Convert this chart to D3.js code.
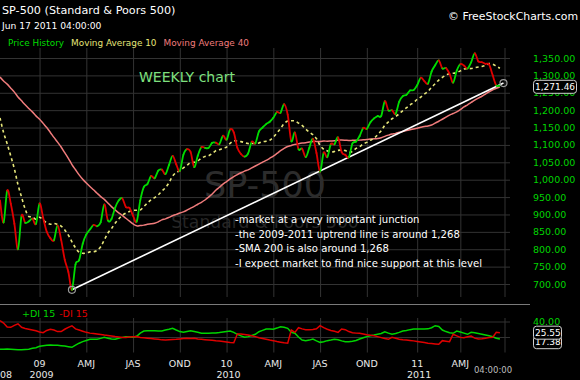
<!DOCTYPE html>
<html>
<head>
<meta charset="utf-8">
<script src="https://cdn.jsdelivr.net/npm/d3@7"></script>
<style>
  body { margin: 0; background: #000; }
  svg { display: block; font-family: "DejaVu Sans", sans-serif; }
</style>
</head>
<body>
<div id="chart"></div>
<script>

// Set dimensions for the chart
const width = 580;
const height = 380;
const plot = {left: 0, right: 505, top: 48, bottom: 297};
const lower = {top: 318, bottom: 352.5};

// weekly closes, one per Friday, starting Oct 17 2008
const firstWeek = new Date(2008, 9, 17);
const closes = [
  940.55, 876.77, 968.75, 930.99, 873.29, 800.03, 896.24, 876.07, 879.73, 887.88,
  872.80, 931.80, 890.35, 850.12, 831.95, 825.88, 868.60, 826.84, 770.05, 735.09,
  683.38, 756.55, 768.54, 815.94, 842.50, 856.56, 869.60, 866.23, 877.52, 929.23,
  882.88, 887.00, 919.14, 940.09, 946.21, 921.23, 918.90, 896.42, 879.13, 940.38,
  979.26, 987.48, 1010.48, 1004.09, 1026.13, 1028.93, 1016.40, 1042.73, 1068.30, 1044.38,
  1025.21, 1071.49, 1087.68, 1079.60, 1036.19, 1069.30, 1093.48, 1091.38, 1091.49, 1105.98,
  1106.41, 1102.47, 1126.48, 1115.10, 1144.98, 1136.03, 1091.76, 1073.87, 1066.19, 1075.51,
  1109.17, 1104.49, 1138.70, 1149.99, 1159.90, 1166.59, 1178.10, 1194.37, 1192.13, 1217.28,
  1186.69, 1110.88, 1135.68, 1087.69, 1089.41, 1064.88, 1091.60, 1117.51, 1076.76, 1022.58,
  1077.96, 1064.88, 1102.66, 1101.60, 1121.64, 1079.25, 1071.69, 1064.59, 1104.51, 1109.55,
  1125.59, 1148.67, 1146.24, 1165.15, 1176.19, 1183.08, 1183.26, 1225.85, 1199.21, 1199.73,
  1189.40, 1224.71, 1240.40, 1243.91, 1256.77, 1257.64, 1271.50, 1293.24, 1283.35, 1276.34,
  1310.87, 1329.15, 1343.01, 1319.88, 1321.15, 1304.28, 1279.21, 1313.80, 1332.41, 1328.17,
  1319.68, 1337.38, 1363.61, 1340.20, 1337.77, 1333.27, 1331.10, 1300.16, 1270.98, 1271.46
];

// moving average 10 (yellow dashed)
const ma10 = [
  1177.5, 1135.3, 1103.0, 1067.8, 1030.9, 985.7, 949.8, 916.1, 894.2, 893.0,
  886.3, 891.8, 883.9, 875.8, 871.7, 874.3, 871.5, 866.6, 855.6, 840.4,
  821.4, 803.9, 791.7, 788.3, 789.3, 792.4, 792.5, 796.5, 807.2, 826.6,
  846.6, 859.6, 874.7, 887.1, 897.4, 903.9, 908.8, 911.9, 912.0, 913.1,
  922.8, 932.8, 942.0, 948.4, 956.4, 967.1, 976.9, 991.5, 1010.4, 1020.8,
  1025.4, 1033.8, 1041.5, 1049.1, 1050.1, 1054.1, 1061.8, 1066.7, 1069.0, 1075.2,
  1083.3, 1086.4, 1090.3, 1093.8, 1104.7, 1111.4, 1111.2, 1109.5, 1106.9, 1103.9,
  1104.2, 1104.4, 1105.6, 1109.1, 1110.6, 1113.6, 1122.3, 1134.3, 1146.9, 1161.1,
  1168.8, 1169.5, 1169.2, 1162.9, 1155.9, 1145.7, 1137.1, 1129.4, 1117.9, 1098.4,
  1087.5, 1082.9, 1079.6, 1081.0, 1084.2, 1085.7, 1083.7, 1078.4, 1081.2, 1089.9,
  1094.6, 1103.0, 1107.3, 1113.7, 1119.2, 1129.5, 1140.7, 1156.8, 1166.3, 1175.3,
  1181.7, 1189.3, 1198.7, 1206.6, 1214.6, 1222.1, 1230.9, 1237.6, 1246.1, 1253.7,
  1265.9, 1276.3, 1286.6, 1294.2, 1300.6, 1305.3, 1306.1, 1308.1, 1313.0, 1318.2,
  1319.1, 1319.9, 1322.0, 1324.0, 1325.7, 1328.6, 1333.8, 1332.4, 1326.3, 1320.6
];

// moving average 40 (salmon)
const ma40 = [
  1295.2, 1284.0, 1274.9, 1263.3, 1251.9, 1238.1, 1226.7, 1215.3, 1205.0, 1195.0,
  1183.6, 1174.0, 1162.0, 1149.9, 1135.9, 1121.6, 1108.0, 1094.0, 1077.6, 1061.6,
  1043.6, 1028.5, 1013.8, 1001.2, 990.3, 980.2, 970.9, 961.0, 951.5, 943.3,
  932.9, 922.6, 913.3, 904.7, 897.3, 889.1, 880.7, 872.8, 867.3, 868.3,
  869.3, 872.0, 873.1, 874.9, 878.7, 884.4, 887.4, 891.6, 896.3, 900.2,
  904.0, 907.5, 912.5, 918.2, 923.3, 929.4, 935.0, 941.6, 949.7, 958.9,
  969.5, 978.2, 987.1, 994.6, 1002.2, 1009.1, 1014.7, 1019.9, 1024.6, 1028.3,
  1033.9, 1039.4, 1044.8, 1050.1, 1055.4, 1061.6, 1068.0, 1075.5, 1083.3, 1090.2,
  1095.4, 1098.5, 1101.6, 1103.7, 1105.3, 1106.2, 1108.1, 1110.0, 1110.2, 1109.6,
  1111.0, 1110.8, 1111.2, 1111.7, 1113.9, 1114.1, 1113.6, 1112.9, 1113.2, 1113.3,
  1113.8, 1114.9, 1115.4, 1116.7, 1117.5, 1118.6, 1120.9, 1124.7, 1128.1, 1131.2,
  1133.2, 1136.2, 1138.7, 1141.1, 1143.5, 1145.8, 1148.1, 1150.6, 1152.8, 1154.3,
  1157.4, 1162.9, 1168.1, 1173.9, 1179.7, 1185.6, 1190.3, 1195.2, 1201.6, 1209.3,
  1215.3, 1222.1, 1228.7, 1234.6, 1240.0, 1246.4, 1252.9, 1258.7, 1262.9, 1267.0
];

// +DI 15 and -DI 15 (lower panel)
const plusDI = [
  4.1, 4.3, 4.5, 4.3, 3.8, 3.4, 3.6, 4.0, 4.2, 5.5,
  6.2, 8.0, 8.8, 9.3, 9.7, 9.5, 9.2, 8.8, 8.3, 7.5,
  6.7, 9.5, 12.0, 14.0, 15.5, 17.0, 17.1, 17.2, 18.2, 19.6,
  18.5, 17.5, 17.2, 18.5, 19.5, 20.4, 20.0, 19.6, 21.0, 25.0,
  27.7, 28.0, 28.0, 28.0, 27.8, 27.7, 29.0, 30.0, 31.2, 29.0,
  27.0, 26.0, 27.0, 28.0, 27.0, 26.0, 24.8, 25.0, 25.0, 25.2,
  25.3, 25.8, 26.5, 27.2, 27.7, 26.0, 23.5, 21.5, 19.6, 20.5,
  22.0, 23.5, 26.8, 28.5, 30.3, 30.3, 30.0, 31.5, 33.3, 32.5,
  31.2, 26.0, 24.8, 20.0, 16.1, 15.3, 16.0, 17.4, 15.0, 13.1,
  14.0, 15.3, 16.0, 17.0, 16.5, 15.0, 14.0, 14.0, 14.5, 15.5,
  17.4, 19.0, 20.5, 21.7, 22.5, 23.5, 24.5, 26.8, 25.0, 23.5,
  24.5, 26.0, 27.7, 28.5, 29.5, 30.3, 30.3, 30.3, 30.3, 30.5,
  32.0, 34.6, 33.5, 29.0, 27.0, 25.5, 24.8, 27.7, 26.5, 25.0,
  23.5, 26.0, 25.5, 24.5, 23.5, 22.6, 21.5, 20.4, 18.5, 17.38
];
const minusDI = [
  41, 38, 33, 32.5, 35, 37, 32.5, 31, 30, 29,
  28, 26.5, 25.5, 28.5, 30, 29, 27, 27, 30, 32.5,
  34.5, 30.5, 29, 27.5, 26, 25, 24.5, 24, 23.3, 22.5,
  22, 21.3, 20.5, 20, 19.5, 19.5, 20, 20.4, 20.5, 19.5,
  19, 18.5, 18, 17.5, 17, 16.3, 16.2, 16.5, 16.8, 17,
  17.5, 18, 18.3, 18, 18.3, 17.5, 17, 16.6, 16.2, 15.8,
  15.2, 14.8, 14.2, 13.5, 12.8, 12.6, 24, 24, 23.3, 22.5,
  21.5, 20.5, 19, 18, 17, 16, 15.3, 14.2, 13.3, 12.5,
  12, 29, 26, 32, 30.5, 29.5, 29.5, 29.7, 30.5, 34.6,
  32, 30, 28.5, 27.3, 26, 30.3, 29.5, 27, 25.5, 25,
  24.8, 24, 23, 22.3, 21.5, 20.5, 19.2, 18, 17, 19.6,
  18.5, 17.2, 16.5, 16, 15.5, 15, 14.2, 13.5, 12.8, 12,
  11.5, 11, 10.6, 15.3, 14.6, 14, 23.5, 21.5, 19.5, 19.1,
  20.3, 21.3, 18.5, 17.4, 17.8, 18.5, 19.2, 19.6, 26, 25.55
];

// uptrend line drawn from the March 2009 low
const trendDates = [new Date(2009, 2, 6), new Date(2011, 5, 24)];
const trendValues = [683.38, 1278];

// tick labels
const priceTicks = [700, 750, 800, 850, 900, 950, 1000, 1050, 1100, 1150, 1200, 1250, 1300, 1350];
const diTicks = [20, 40];
const quarterLabels = ["09", "AMJ", "JAS", "OND", "10", "AMJ", "JAS", "OND", "11", "AMJ"];
const yearLabels = ["2009", "2010", "2011"];
const notes = [
  "-market at a very important junction",
  "-the 2009-2011 uptrend line is around 1,268",
  "-SMA 200 is also around 1,268",
  "-I expect market to find nice support at this level"
];

const dates = closes.map((d, i) => d3.timeDay.offset(firstWeek, 7 * i));

// add the svg
const svg = d3.select("#chart")
  .append("svg")
  .attr("width", width)
  .attr("height", height)
  .style("background", "#000");

// scales
const x = d3.scaleTime()
  .domain([firstWeek, trendDates[1]])
  .range([0, 503.5]);

const y = d3.scaleLinear()
  .domain([700, 1350])
  .range([284, 58]);

const yDI = d3.scaleLinear()
  .domain([0, 60])
  .range([lower.bottom, 306]);

// quarter grid sits on the first weekly bar of each quarter
const quarterStarts = d3.timeMonth.every(3).range(new Date(2009, 0, 1), new Date(2011, 6, 1));
const quarterDates = quarterStarts.map(q => dates[d3.bisectLeft(dates, q)]);

/*
  Grid
*/
const gridColor = "#333";

svg.append("g")
  .attr("transform", `translate(510,0)`)
  .call(d3.axisRight(y).tickValues(priceTicks).tickSize(-510).tickPadding(23)
          .tickFormat(d3.format(",.2f")))
  .call(g => g.select(".domain").remove())
  .call(g => g.selectAll("line").attr("stroke", gridColor))
  .call(g => g.selectAll("text").attr("fill", "#00d400"))
  .attr("font-family", "DejaVu Sans")
  .attr("font-size", "9.5px");

svg.append("g")
  .attr("transform", `translate(0,${plot.bottom})`)
  .call(d3.axisBottom(x).tickValues(quarterDates).tickSize(-(plot.bottom - plot.top)).tickFormat(""))
  .call(g => g.select(".domain").remove())
  .call(g => g.selectAll("line").attr("stroke", gridColor));

svg.append("line")
  .attr("x1", plot.right).attr("x2", plot.right)
  .attr("y1", plot.top).attr("y2", plot.bottom)
  .attr("stroke", gridColor);

// lower panel grid
svg.append("g")
  .attr("transform", `translate(510,0)`)
  .call(d3.axisRight(yDI).tickValues(diTicks).tickSize(-510).tickPadding(23)
          .tickFormat(d3.format(".2f")))
  .call(g => g.select(".domain").remove())
  .call(g => g.selectAll("line").attr("stroke", gridColor))
  .call(g => g.selectAll("text").attr("fill", "#00d400"))
  .attr("font-family", "DejaVu Sans")
  .attr("font-size", "9.5px");

svg.append("g")
  .attr("transform", `translate(0,${lower.bottom})`)
  .call(d3.axisBottom(x).tickValues(quarterDates).tickSize(-(lower.bottom - lower.top)).tickFormat(""))
  .call(g => g.select(".domain").remove())
  .call(g => g.selectAll("line").attr("stroke", gridColor));

svg.append("line")
  .attr("x1", plot.right).attr("x2", plot.right)
  .attr("y1", lower.top).attr("y2", lower.bottom)
  .attr("stroke", gridColor);

// separator between the panels
svg.append("line")
  .attr("x1", 0).attr("x2", 530)
  .attr("y1", 304.5).attr("y2", 304.5)
  .attr("stroke", "#7a7a7a");

/*
  Watermark
*/
svg.append("text")
  .attr("x", 265).attr("y", 197)
  .attr("text-anchor", "middle")
  .attr("font-size", "35px")
  .attr("fill", "#2c2c2c")
  .text("SP-500");

svg.append("text")
  .attr("x", 265).attr("y", 228)
  .attr("text-anchor", "middle")
  .attr("font-size", "17.2px")
  .attr("fill", "#262626")
  .text("Standard & Poors 500");

/*
  Lines
*/
svg.append("clipPath").attr("id", "plotclip")
  .append("rect")
  .attr("x", plot.left).attr("y", plot.top)
  .attr("width", plot.right - plot.left).attr("height", plot.bottom - plot.top);

const main = svg.append("g").attr("clip-path", "url(#plotclip)");

const smooth = d3.line()
  .x((d, i) => x(dates[i]))
  .y(d => y(d))
  .curve(d3.curveCatmullRom);

main.append("path")
  .datum(ma40)
  .attr("d", smooth)
  .attr("fill", "none")
  .attr("stroke", "#f07c7c")
  .attr("stroke-width", 1.5);

main.append("path")
  .datum(ma10)
  .attr("d", smooth)
  .attr("fill", "none")
  .attr("stroke", "#e6e67a")
  .attr("stroke-width", 1.6)
  .attr("stroke-dasharray", "3,3");

// trend line with its two anchor circles
main.append("line")
  .attr("x1", x(trendDates[0])).attr("y1", y(trendValues[0]))
  .attr("x2", x(trendDates[1])).attr("y2", y(trendValues[1]))
  .attr("stroke", "#fff")
  .attr("stroke-width", 1.6);

svg.selectAll(".anchor")
  .data(trendDates)
  .enter()
  .append("circle")
  .attr("class", "anchor")
  .attr("cx", d => x(d))
  .attr("cy", (d, i) => y(trendValues[i]))
  .attr("r", 3.5)
  .attr("fill", "none")
  .attr("stroke", "#9a9a9a")
  .attr("stroke-width", 1.2);

// price history: each weekly step is green when up, red when down
const pts = closes.map((c, i) => [x(dates[i]), y(c)]);
const segments = d3.range(pts.length - 1).map(i => {
  const p0 = pts[Math.max(i - 1, 0)];
  const p1 = pts[i];
  const p2 = pts[i + 1];
  const p3 = pts[Math.min(i + 2, pts.length - 1)];
  const c1 = [p1[0] + (p2[0] - p0[0]) / 6, p1[1] + (p2[1] - p0[1]) / 6];
  const c2 = [p2[0] - (p3[0] - p1[0]) / 6, p2[1] - (p3[1] - p1[1]) / 6];
  return {d: `M${p1}C${c1} ${c2} ${p2}`, up: closes[i + 1] >= closes[i]};
});

main.selectAll(".seg")
  .data(segments)
  .enter()
  .append("path")
  .attr("class", "seg")
  .attr("d", d => d.d)
  .attr("fill", "none")
  .attr("stroke", d => d.up ? "#00dc00" : "#e00000")
  .attr("stroke-width", 1.8)
  .attr("stroke-linecap", "round");

// DI lines
const diLine = d3.line()
  .x((d, i) => x(dates[i]))
  .y(d => yDI(d));

svg.append("path")
  .datum(plusDI)
  .attr("d", diLine)
  .attr("fill", "none")
  .attr("stroke", "#00d400")
  .attr("stroke-width", 1.5);

svg.append("path")
  .datum(minusDI)
  .attr("d", diLine)
  .attr("fill", "none")
  .attr("stroke", "#e00000")
  .attr("stroke-width", 1.5);

/*
  Value boxes on the right
*/
function valueBox(cy, txt, w) {
  svg.append("rect")
    .attr("x", 533.5).attr("y", cy - 6.5)
    .attr("width", w).attr("height", 13)
    .attr("rx", 3)
    .attr("fill", "#000")
    .attr("stroke", "#d0d0d0");
  svg.append("text")
    .attr("x", 535).attr("y", cy + 3.3)
    .attr("font-size", "9px")
    .attr("fill", "#fff")
    .text(txt);
}
valueBox(y(closes[closes.length - 1]) + 1.5, d3.format(",.2f")(closes[closes.length - 1]), 43);
valueBox(yDI(minusDI[minusDI.length - 1]) + 9.5, d3.format(".2f")(plusDI[plusDI.length - 1]), 28);
valueBox(yDI(minusDI[minusDI.length - 1]), d3.format(".2f")(minusDI[minusDI.length - 1]), 28);

/*
  Time axis labels
*/
svg.selectAll(".qlabel")
  .data(quarterDates)
  .enter()
  .append("text")
  .attr("class", "qlabel")
  .attr("x", d => x(d))
  .attr("y", 367)
  .attr("text-anchor", "middle")
  .attr("font-size", "9.5px")
  .attr("fill", "#e8e8e8")
  .text((d, i) => quarterLabels[i]);

const yearDates = quarterDates.filter((d, i) => quarterStarts[i].getMonth() === 0);
svg.selectAll(".ylabel")
  .data(yearDates)
  .enter()
  .append("text")
  .attr("class", "ylabel")
  .attr("x", d => x(d) + 2)
  .attr("y", 378)
  .attr("text-anchor", "middle")
  .attr("font-size", "9.5px")
  .attr("fill", "#e8e8e8")
  .text((d, i) => yearLabels[i]);

svg.append("text")
  .attr("x", 12).attr("y", 378)
  .attr("text-anchor", "end")
  .attr("font-size", "9.5px")
  .attr("fill", "#e8e8e8")
  .text("2008");

svg.append("text")
  .attr("x", 493).attr("y", 373)
  .attr("text-anchor", "middle")
  .attr("font-size", "8.5px")
  .attr("fill", "#bdbdbd")
  .text("04:00:00");

/*
  Titles, legend and notes
*/
svg.append("text")
  .attr("x", 2).attr("y", 13.5)
  .attr("font-size", "11.2px")
  .attr("fill", "#fff")
  .text("SP-500 (Standard & Poors 500)");

svg.append("text")
  .attr("x", 2).attr("y", 28.5)
  .attr("font-size", "9.2px")
  .attr("fill", "#fff")
  .text("Jun 17 2011 04:00:00");

svg.append("text")
  .attr("x", 578).attr("y", 20)
  .attr("text-anchor", "end")
  .attr("font-size", "10.9px")
  .attr("fill", "#fff")
  .text("\u00a9 FreeStockCharts.com");

const legend = [
  {label: "Price History", color: "#00dc00"},
  {label: "Moving Average 10", color: "#e6e67a"},
  {label: "Moving Average 40", color: "#f07c7c"}
];
const legendText = svg.append("text")
  .attr("x", 8).attr("y", 46)
  .attr("font-size", "8.9px");
legendText.selectAll("tspan")
  .data(legend)
  .enter()
  .append("tspan")
  .attr("dx", (d, i) => i ? 7 : 0)
  .attr("fill", d => d.color)
  .text(d => d.label);

const diLegend = svg.append("text")
  .attr("x", 22).attr("y", 317)
  .attr("font-size", "9.5px");
diLegend.append("tspan").attr("fill", "#00d400").text("+DI 15");
diLegend.append("tspan").attr("dx", 4).attr("fill", "#e00000").text("-DI 15");

svg.append("text")
  .attr("x", 187).attr("y", 82)
  .attr("text-anchor", "middle")
  .attr("font-size", "14px")
  .attr("fill", "#7fe07f")
  .text("WEEKLY chart");

svg.selectAll(".note")
  .data(notes)
  .enter()
  .append("text")
  .attr("class", "note")
  .attr("x", 235)
  .attr("y", (d, i) => 223 + i * 14.7)
  .attr("font-size", "10.1px")
  .attr("fill", "#fff")
  .text(d => d);

</script>
</body>
</html>
